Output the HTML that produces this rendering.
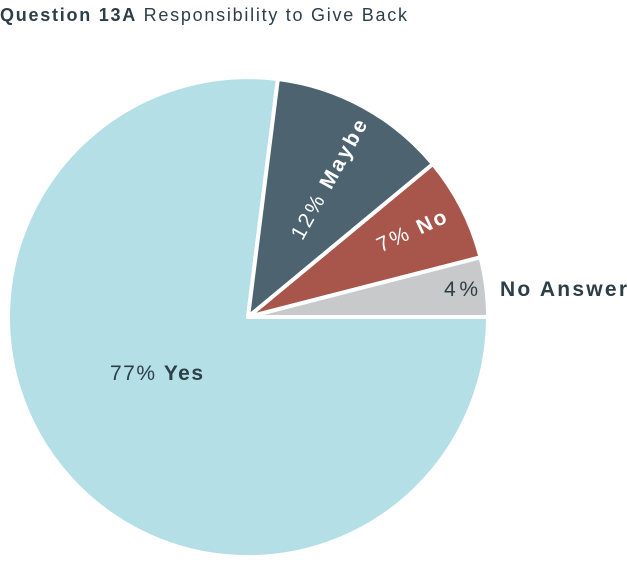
<!DOCTYPE html>
<html><head><style>
body{margin:0;width:627px;height:561px;background:#fff;overflow:hidden}
</style></head><body>
<svg width="627" height="561" viewBox="0 0 627 561" xmlns="http://www.w3.org/2000/svg" font-family="Liberation Sans, sans-serif">
<text x="0" y="21" font-size="18" fill="#2d3e46" textLength="407" lengthAdjust="spacing"><tspan font-weight="bold">Question 13A</tspan> Responsibility to Give Back</text>
<g stroke="#fff" stroke-width="4" stroke-linejoin="round">
<path d="M248,317 L277.9,79 A240,240 0 1,0 488,317 Z" fill="#b5dfe7"/>
<path d="M248,317 L432.9,164 A240,240 0 0,0 277.9,79 Z" fill="#4d6470"/>
<path d="M248,317 L480.5,257.3 A240,240 0 0,0 432.9,164 Z" fill="#a8564c"/>
<path d="M248,317 L488,317 A240,240 0 0,0 480.5,257.3 Z" fill="#c8c9cb"/>
</g>
<text transform="translate(330,180) rotate(-61)" text-anchor="middle" dominant-baseline="middle" font-size="21" fill="#fff" textLength="134" lengthAdjust="spacing">12% <tspan font-weight="bold">Maybe</tspan></text>
<text transform="translate(412,232) rotate(-25)" text-anchor="middle" dominant-baseline="middle" font-size="21" fill="#fff" textLength="74" lengthAdjust="spacing">7% <tspan font-weight="bold">No</tspan></text>
<text x="444" y="296" font-size="21" fill="#2d3e46" textLength="34" lengthAdjust="spacing">4%</text>
<text x="500" y="296" font-size="21" font-weight="bold" fill="#2d3e46" textLength="127" lengthAdjust="spacing">No Answer</text>
<text x="110" y="380" font-size="21" fill="#2d3e46" textLength="93" lengthAdjust="spacing">77% <tspan font-weight="bold">Yes</tspan></text>
</svg>
</body></html>
